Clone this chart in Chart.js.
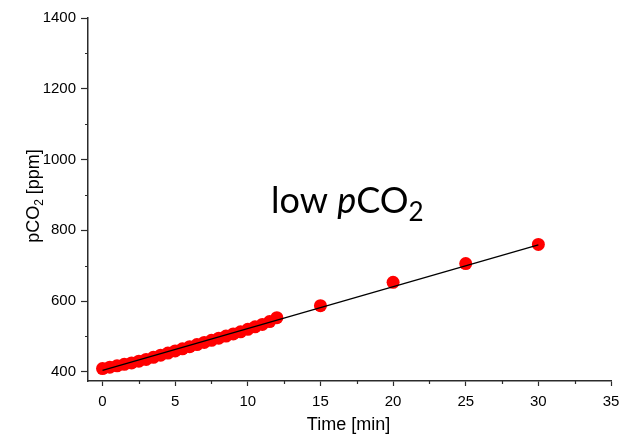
<!DOCTYPE html>
<html>
<head>
<meta charset="utf-8">
<script src="https://cdn.jsdelivr.net/npm/chart.js@4/dist/chart.umd.min.js"></script>
<style>
  html, body { margin: 0; padding: 0; background: #fff; }
  #wrap { width: 636px; height: 435px; }
</style>
</head>
<body>
<div id="wrap"><canvas id="chart" width="636" height="435"></canvas></div>
<script>
// measured pCO2 over time (min)
const timeMin = [0, 0.5, 1, 1.5, 2, 2.5, 3, 3.5, 4, 4.5, 5, 5.5, 6, 6.5, 7, 7.5, 8, 8.5, 9, 9.5, 10, 10.5, 11, 11.5, 12, 15, 20, 25, 30];
const pco2 = [409, 413, 417, 421, 425, 430, 435, 441, 447, 453, 459, 465, 471, 477, 483, 489, 495, 501, 507, 513, 520, 527, 534, 542, 553, 587, 653, 706, 760];
// linear fit end points
const fitTime = [0, 30];
const fitPco2 = [404, 759];

const xTicks = [0, 5, 10, 15, 20, 25, 30, 35];
const yTicks = [400, 600, 800, 1000, 1200, 1400];
const xMinor = [2.5, 7.5, 12.5, 17.5, 22.5, 27.5, 32.5];
const yMinor = [500, 700, 900, 1100, 1300];

const axisColor = '#2b2b2b';
const tickFont = { family: 'Liberation Sans, Arial, sans-serif', size: 15 };

const toXY = (xs, ys) => xs.map((x, i) => ({ x, y: ys[i] }));

// minor ticks + titles with subscripts
const decor = {
  id: 'decor',
  afterDraw(chart) {
    const c = chart.ctx, xs = chart.scales.x, ys = chart.scales.y;
    const a = chart.chartArea;
    c.save();
    c.strokeStyle = axisColor;
    c.lineWidth = 1.2;
    c.beginPath();
    xMinor.forEach(v => {
      const px = Math.round(xs.getPixelForValue(v)) + 0.5;
      c.moveTo(px, a.bottom); c.lineTo(px, a.bottom + 3);
    });
    yMinor.forEach(v => {
      const py = Math.round(ys.getPixelForValue(v)) + 0.5;
      c.moveTo(a.left - 3, py); c.lineTo(a.left, py);
    });
    c.stroke();

    c.fillStyle = '#000';
    c.textBaseline = 'alphabetic';

    // x title
    c.font = '18px "Liberation Sans", Arial, sans-serif';
    c.textAlign = 'center';
    c.fillText('Time [min]', (a.left + a.right) / 2 - 1, 430);

    // y title, rotated
    c.textAlign = 'left';
    const big = '18px "Liberation Sans", Arial, sans-serif';
    const small = '12px "Liberation Sans", Arial, sans-serif';
    c.font = big; const w1 = c.measureText('pCO').width;
    c.font = small; const w2 = c.measureText('2').width;
    c.font = big; const w3 = c.measureText(' [ppm]').width;
    const tot = w1 + w2 + w3;
    c.translate(39, 196);
    c.rotate(-Math.PI / 2);
    let x0 = -tot / 2;
    c.font = big; c.fillText('pCO', x0, 0); x0 += w1;
    c.font = small; c.fillText('2', x0, 4); x0 += w2;
    c.font = big; c.fillText(' [ppm]', x0, 0);
    c.setTransform(1, 0, 0, 1, 0, 0);

    // label in the plot
    const fam = 'Lato, "Open Sans", sans-serif';
    const parts = [
      { t: 'low ', f: '36px ' + fam, dy: 0 },
      { t: 'p', f: 'italic 36px ' + fam, dy: 0 },
      { t: 'CO', f: '36px ' + fam, dy: 0 },
      { t: '2', f: '26px ' + fam, dy: 8 }
    ];
    let lx = 271;
    parts.forEach(p => {
      c.font = p.f;
      c.fillText(p.t, lx, 213 + p.dy);
      lx += c.measureText(p.t).width;
    });
    c.restore();
  }
};

new Chart(document.getElementById('chart').getContext('2d'), {
  type: 'scatter',
  data: {
    datasets: [
      {
        label: 'fit',
        data: toXY(fitTime, fitPco2),
        showLine: true,
        borderColor: '#000',
        borderWidth: 1.3,
        pointRadius: 0,
        order: 0
      },
      {
        label: 'pCO2',
        data: toXY(timeMin, pco2),
        backgroundColor: '#ff0000',
        borderColor: '#ff0000',
        borderWidth: 0,
        pointRadius: 6.5,
        order: 1
      }
    ]
  },
  options: {
    responsive: false,
    animation: false,
    devicePixelRatio: 1,
    layout: { padding: { top: 18, right: 25, left: 0, bottom: 0 } },
    plugins: { legend: { display: false }, tooltip: { enabled: false } },
    scales: {
      x: {
        type: 'linear',
        min: -1,
        max: 35,
        afterBuildTicks: s => { s.ticks = xTicks.map(v => ({ value: v })); },
        afterFit: s => { s.height = 54; },
        ticks: { font: tickFont, color: '#000', padding: 7, maxRotation: 0, autoSkip: false, callback: v => String(v) },
        grid: { drawOnChartArea: false, tickLength: 5, tickColor: axisColor, tickWidth: 1.2 },
        border: { color: axisColor, width: 1.5 }
      },
      y: {
        min: 374,
        max: 1400,
        afterBuildTicks: s => { s.ticks = yTicks.map(v => ({ value: v })); },
        afterFit: s => { s.width = 88; },
        ticks: { font: tickFont, color: '#000', padding: 5, autoSkip: false, callback: v => String(v) },
        grid: { drawOnChartArea: false, tickLength: 7, tickColor: axisColor, tickWidth: 1.2 },
        border: { color: axisColor, width: 1.5 }
      }
    }
  },
  plugins: [decor]
});
</script>
</body>
</html>
